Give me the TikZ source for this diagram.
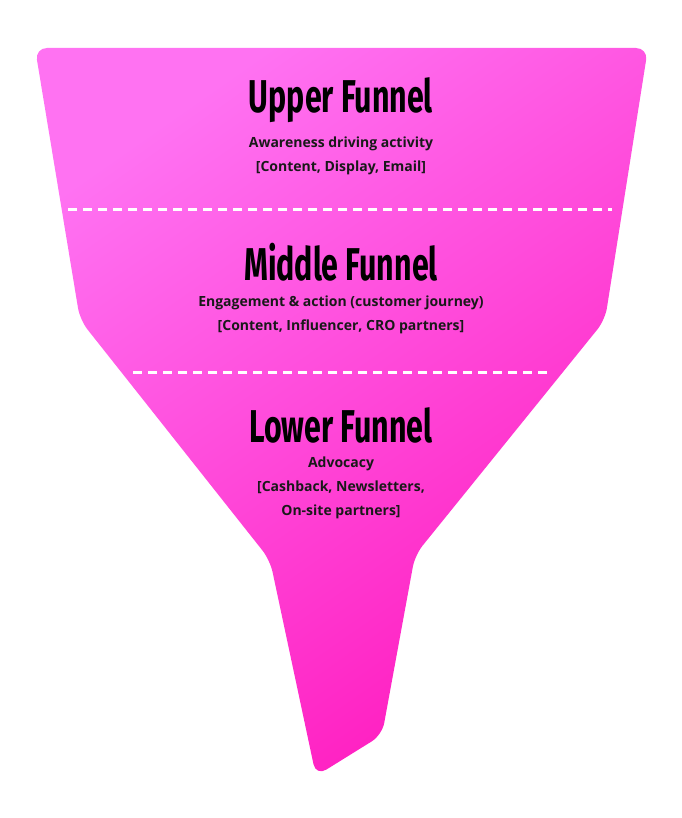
\documentclass[tikz,border=0pt]{standalone}
\usepackage{fontspec}
\setmainfont{Open Sans}
\newfontfamily\titlefont[FakeStretch=0.66]{Fira Sans}
\usetikzlibrary{positioning}
\definecolor{pinklight}{HTML}{FF72F2}
\definecolor{pinkdeep}{HTML}{FF1CBF}
\tikzset{
	title/.style={font=\titlefont\bfseries\fontsize{46}{46}\selectfont, text=black, inner sep=0},
	info/.style={font=\bfseries\fontsize{14}{24}\selectfont, text=black!90, align=center, inner sep=0},
	divider/.style={white, line width=3pt, dash pattern=on 9pt off 6pt},
}
\begin{document}
\begin{tikzpicture}[x=1pt,y=-1pt]
	\useasboundingbox (0,0) rectangle (681,818);
	% funnel body
	\shade[left color=pinklight, right color=pinkdeep, shading angle=35, rounded corners=12pt]
		(35,48) -- (648,48) -- (605,320) -- (415,555) -- (382,735) -- (316,776) -- (270,560) -- (80,320) -- cycle;
	% dividers
	\draw[divider] (68,210) -- (612,210);
	\draw[divider] (133,372) -- (547,372);
	% upper
	\node[title] (upper) at (341,100) {Upper Funnel};
	\node[info, below=14pt of upper] (upperinfo) {Awareness driving activity\\ {}[Content, Display, Email]};
	% middle
	\node[title] (middle) at (341,262) {Middle Funnel};
	\node[info, below=14pt of middle] (middleinfo) {Engagement \& action (customer journey)\\ {}[Content, Influencer, CRO partners]};
	% lower
	\node[title] (lower) at (341,425) {Lower Funnel};
	\node[info, below=14pt of lower] (lowerinfo) {Advocacy\\ {}[Cashback, Newsletters,\\ On-site partners]};
\end{tikzpicture}
\end{document}
